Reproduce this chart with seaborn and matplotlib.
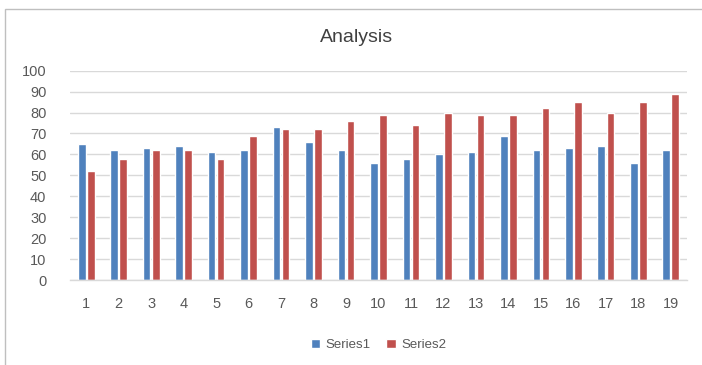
import matplotlib
matplotlib.use("Agg")
import matplotlib.pyplot as plt
import seaborn as sns
import pandas as pd
from matplotlib.patches import Rectangle

categories = [str(i) for i in range(1, 20)]
series1 = [65, 62, 63, 64, 61, 62, 73, 66, 62, 56, 58, 60, 61, 69, 62, 63, 64, 56, 62]
series2 = [52, 58, 62, 62, 58, 69, 72, 72, 76, 79, 74, 80, 79, 79, 82, 85, 80, 85, 89]
series_names = ["Series1", "Series2"]
colors = ["#4F81BD", "#C0504D"]

df = pd.DataFrame({
    "cat": categories * 2,
    "value": series1 + series2,
    "series": [series_names[0]] * len(categories) + [series_names[1]] * len(categories),
})

sns.set_theme(style="white")
plt.rcParams["font.family"] = ["Liberation Sans", "DejaVu Sans"]

fig = plt.figure(figsize=(7.02, 3.65), dpi=100)
ax = fig.add_axes([70 / 702, 1 - 280 / 365, 617 / 702, (280 - 70.7) / 365])

sns.barplot(data=df, x="cat", y="value", hue="series", order=categories,
            hue_order=series_names, palette=colors, width=0.56, gap=0.16,
            saturation=1, ax=ax, legend=True)

ax.set_ylim(0, 100)
ax.set_xlim(-0.5, len(categories) - 0.5)
ax.set_yticks(range(0, 101, 10))
ax.yaxis.grid(True, color="#D9D9D9", linewidth=1)
ax.set_axisbelow(True)
for s in ["top", "right", "left"]:
    ax.spines[s].set_visible(False)
ax.spines["bottom"].set_color("#D9D9D9")
ax.spines["bottom"].set_linewidth(1)
ax.tick_params(axis="both", length=0, colors="#595959", labelsize=10.5)
ax.tick_params(axis="y", pad=17)
ax.tick_params(axis="x", pad=12)
ax.set_xlabel("")
ax.set_ylabel("")

leg = ax.legend(loc="center", bbox_to_anchor=(0.5, -0.31), ncol=2, frameon=False,
                fontsize=9.5, handlelength=0.7, handleheight=0.7, columnspacing=1.2,
                handletextpad=0.4)
for t in leg.get_texts():
    t.set_color("#595959")

fig.text(357 / 702, 1 - 38 / 365, "Analysis", ha="center", va="center",
         fontsize=14, color="#404040")

fig.patches.append(Rectangle((5 / 702, -0.1), 2, 1 - 9 / 365 + 0.1,
                             transform=fig.transFigure, fill=False,
                             edgecolor="#BFBFBF", linewidth=1))

fig.savefig("out.png", dpi=100)
